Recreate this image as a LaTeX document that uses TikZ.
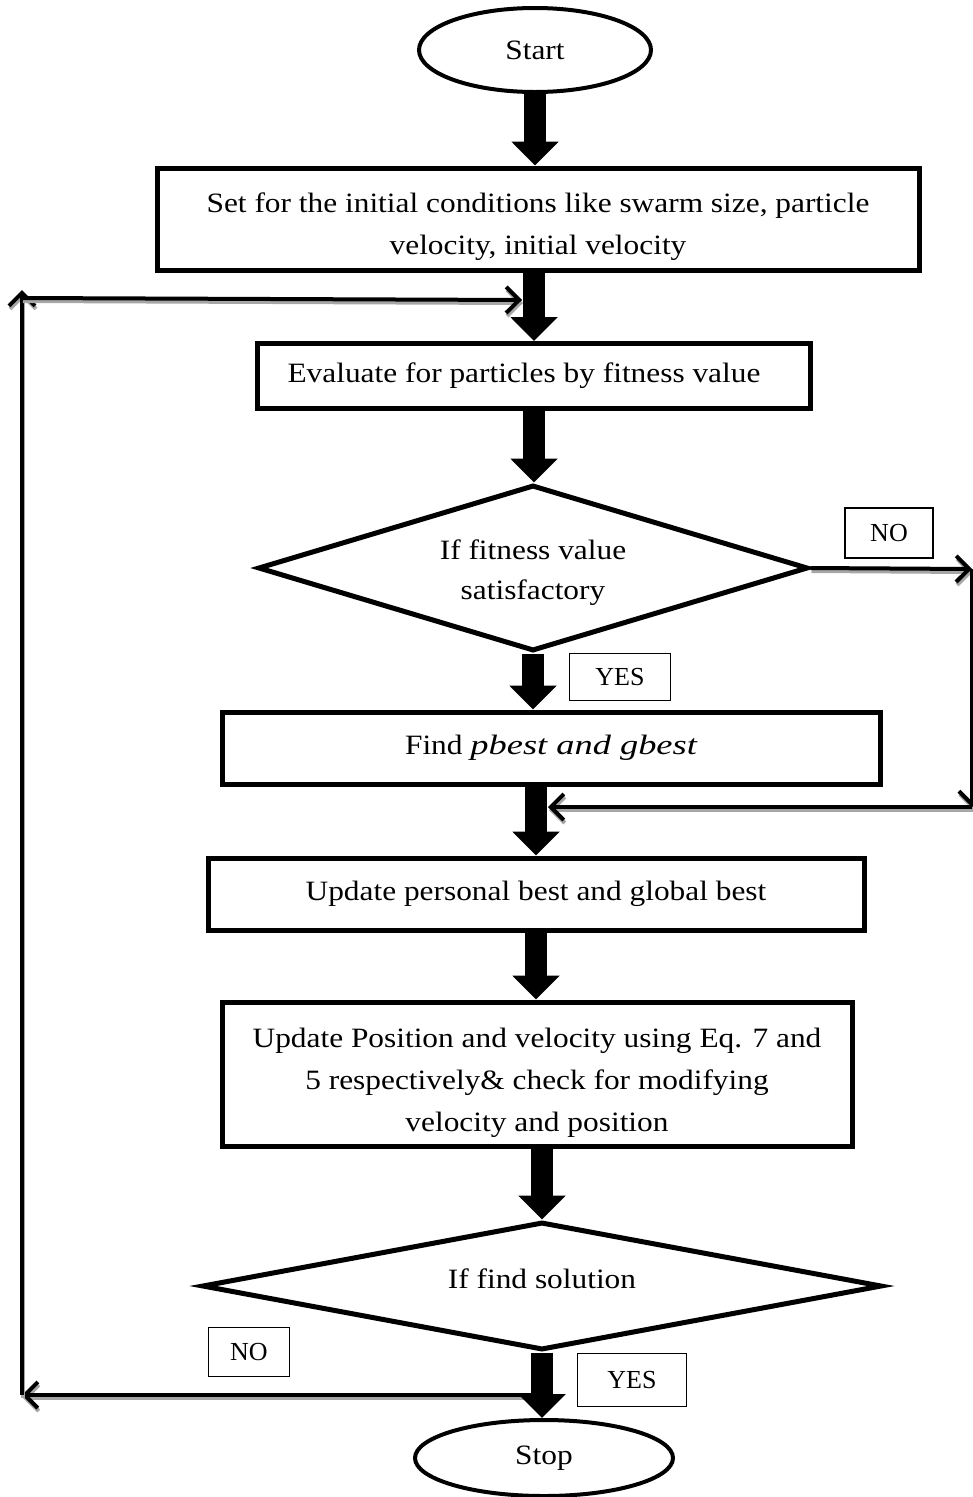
\documentclass[tikz,border=0pt]{standalone}
\usepackage{fontspec}
\setmainfont{Liberation Serif}
\newfontfamily\boxfont{Liberation Serif}[FakeStretch=1.12]
\newfontfamily\wideit{Liberation Serif}[FakeStretch=1.3]
\usetikzlibrary{shapes.geometric}
\usetikzlibrary{arrows.meta}
\colorlet{myshadow}{black!35}
\tikzset{
    boxtext/.style={font=\boxfont\fontsize{28}{42}\selectfont},
    mybox/.style={draw, line width=5pt, rectangle, inner sep=0pt, align=center, boxtext},
    myoval/.style={draw, line width=4pt, ellipse, inner sep=0pt, boxtext},
    mydiamond/.style={draw, line width=5pt, diamond, inner sep=0pt, align=center, font=\boxfont\fontsize{28}{40}\selectfont},
    mylabel/.style={draw, line width=1.2pt, inner sep=0pt, font=\fontsize{26}{30}\selectfont},
    bigarrow/.style={line width=22pt, -{Triangle[width=46pt,length=24pt]}},
    loopline/.style={line width=4pt, preaction={draw=myshadow, line width=4pt, transform canvas={shift={(1pt,-3pt)}}}},
    looparrow/.style={loopline, -{Straight Barb[length=13pt,width=26pt]}}
}

\begin{document}
\begin{tikzpicture}[x=1pt, y=-1pt]
    \useasboundingbox (0,0) rectangle (973,1497);

    % main column
    \node[myoval, minimum width=232pt, minimum height=84pt] (start) at (535,50) {Start};
    \node[mybox, minimum width=762pt, minimum height=102pt] (set) at (538,219)
        {\rule{0pt}{36pt}Set for the initial conditions like swarm size, particle\\velocity, initial velocity};
    \node[mybox, minimum width=553pt, minimum height=65pt] (eval) at (534,376)
        {Evaluate for particles by fitness value\hspace{20pt}};
    \node[mydiamond, aspect=3.3, minimum width=550pt, minimum height=166pt] (fit) at (533,568)
        {\rule{0pt}{30pt}If fitness value\\satisfactory};
    \node[mybox, minimum width=658pt, minimum height=72pt] (find) at (551,748)
        {Find {\wideit\itshape pbest and gbest}};
    \node[mybox, minimum width=656pt, minimum height=72pt] (upd) at (536,894)
        {Update personal best and global best};
    \node[mybox, minimum width=630pt, minimum height=144pt] (pos) at (537,1074)
        {\rule{0pt}{38pt}Update Position and velocity using Eq. 7 and\\5 respectively\& check for modifying\\velocity and position};
    \node[mydiamond, aspect=5.26, minimum width=680pt, minimum height=128pt] (sol) at (542,1286)
        {\rule[-14pt]{0pt}{14pt}If find solution};
    \node[myoval, minimum width=258pt, minimum height=76pt] (stop) at (544,1458) {Stop};

    % yes / no labels
    \node[mylabel, minimum width=88pt, minimum height=50pt] (no1) at (889,533) {NO};
    \node[mylabel, minimum width=101pt, minimum height=47pt] (yes1) at (620,677) {YES};
    \node[mylabel, minimum width=81pt, minimum height=49pt] (no2) at (249,1352) {NO};
    \node[mylabel, minimum width=109pt, minimum height=53pt] (yes2) at (632,1380) {YES};

    % loop corners
    \coordinate (nr) at (972,569);
    \coordinate (nd) at (972,807);
    \coordinate (nj) at (548,807);
    \coordinate (lj) at (541,1395);
    \coordinate (ll) at (22,1395);
    \coordinate (lt) at (22,290);
    \coordinate (tl) at (22,298);
    \coordinate (tj) at (522,300);

    \draw[looparrow] (fit.east) -- (nr);
    \draw[looparrow] (nr) -- (nd);
    \draw[looparrow] (nd) -- (nj);
    \draw[looparrow] (lj) -- (ll);
    \draw[looparrow] (ll) -- (lt);
    \draw[looparrow] (tl) -- (tj);

    \draw[bigarrow] (start.south) -- (start.south |- set.north);
    \draw[bigarrow] (set.south -| eval.north) -- (eval.north);
    \draw[bigarrow] (eval.south) -- (eval.south |- fit.north);
    \draw[bigarrow] (fit.south) -- (fit.south |- find.north);
    \draw[bigarrow] (upd.north |- find.south) -- (upd.north);
    \draw[bigarrow] (upd.south) -- (upd.south |- pos.north);
    \draw[bigarrow] (sol.north |- pos.south) -- (sol.north);
    \draw[bigarrow] (sol.south) -- (sol.south |- stop.north);

\end{tikzpicture}
\end{document}
